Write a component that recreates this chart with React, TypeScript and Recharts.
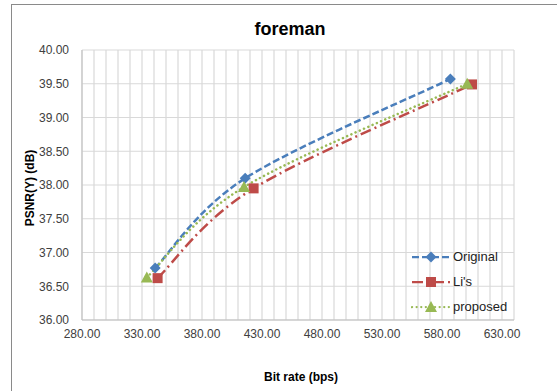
import { LineChart, Line, XAxis, YAxis, CartesianGrid, Legend } from 'recharts';

// bit rate (bps) vs PSNR(Y) (dB)
const originalRate = [341, 416, 587];
const originalPsnr = [36.77, 38.1, 39.57];
const lisRate = [343, 423, 605];
const lisPsnr = [36.62, 37.95, 39.49];
const proposedRate = [334, 415, 601];
const proposedPsnr = [36.63, 37.97, 39.5];

const xTicks = [280, 330, 380, 430, 480, 530, 580, 630];
const xGridTicks = [
  280, 290, 300, 310, 320, 330, 340, 350, 360, 370, 380, 390, 400, 410, 420, 430, 440, 450, 460,
  470, 480, 490, 500, 510, 520, 530, 540, 550, 560, 570, 580, 590, 600, 610, 620, 630, 640,
];
const yTicks = [36, 36.5, 37, 37.5, 38, 38.5, 39, 39.5, 40];
const X_DOMAIN = [280, 640];

const toPoints = (xs: number[], ys: number[]) => xs.map((x, i) => ({ x, y: ys[i] }));

const FONT = '"Liberation Sans", Arial, sans-serif';
const BLUE = '#4A7EBB';
const RED = '#BE4B48';
const GREEN = '#98B954';

const series = [
  { name: 'Original', data: toPoints(originalRate, originalPsnr), color: BLUE, dash: '7 3', marker: 'diamond' },
  { name: "Li's", data: toPoints(lisRate, lisPsnr), color: RED, dash: '11 4 2 4', marker: 'square' },
  { name: 'proposed', data: toPoints(proposedRate, proposedPsnr), color: GREEN, dash: '0.1 4.5', marker: 'triangle' },
];

// excel-style smoothed line (cardinal spline through the points)
function excelSmooth(context: any) {
  let pts: number[][] = [];
  return {
    areaStart() {},
    areaEnd() {},
    lineStart() {
      pts = [];
    },
    point(x: number, y: number) {
      pts.push([+x, +y]);
    },
    lineEnd() {
      if (!pts.length) return;
      context.moveTo(pts[0][0], pts[0][1]);
      for (let i = 0; i < pts.length - 1; i++) {
        const p0 = pts[Math.max(i - 1, 0)];
        const p1 = pts[i];
        const p2 = pts[i + 1];
        const p3 = pts[Math.min(i + 2, pts.length - 1)];
        context.bezierCurveTo(
          p1[0] + (p2[0] - p0[0]) / 6,
          p1[1] + (p2[1] - p0[1]) / 6,
          p2[0] - (p3[0] - p1[0]) / 6,
          p2[1] - (p3[1] - p1[1]) / 6,
          p2[0],
          p2[1],
        );
      }
    },
  };
}

// minor vertical gridlines every 10 bps
function minorVerticals({ xAxis, offset }: any) {
  const sc = xAxis && xAxis.scale;
  if (typeof sc === 'function') return xGridTicks.map((t) => sc(t));
  if (sc && typeof sc.map === 'function') return xGridTicks.map((t) => sc.map(t));
  const left = offset.left;
  const w = offset.width;
  return xGridTicks.map((t) => left + ((t - X_DOMAIN[0]) / (X_DOMAIN[1] - X_DOMAIN[0])) * w);
}

function Marker({ cx, cy, kind, color }: { cx: number; cy: number; kind: string; color: string }) {
  if (kind === 'diamond') {
    return <path d={`M${cx},${cy - 5.5}L${cx + 5.5},${cy}L${cx},${cy + 5.5}L${cx - 5.5},${cy}Z`} fill={color} />;
  }
  if (kind === 'square') {
    return <rect x={cx - 5} y={cy - 5} width={10} height={10} fill={color} />;
  }
  return <path d={`M${cx},${cy - 6}L${cx + 6},${cy + 5}L${cx - 6},${cy + 5}Z`} fill={color} />;
}

function renderLegend() {
  return (
    <div style={{ fontFamily: FONT, fontSize: 13, color: '#222' }}>
      {series.map((s) => (
        <div key={s.name} style={{ display: 'flex', alignItems: 'center', height: 25 }}>
          <svg width={40} height={14} style={{ marginRight: 2 }}>
            <line
              x1={1}
              y1={7}
              x2={39}
              y2={7}
              stroke={s.color}
              strokeWidth={2.25}
              strokeDasharray={s.dash}
              strokeLinecap={s.marker === 'triangle' ? 'round' : 'butt'}
            />
            <Marker cx={20} cy={7} kind={s.marker} color={s.color} />
          </svg>
          <span>{s.name}</span>
        </div>
      ))}
    </div>
  );
}

export default function App() {
  return (
    <div
      style={{
        position: 'absolute',
        left: 0,
        top: 0,
        width: 557,
        height: 391,
        overflow: 'hidden',
        background: '#fff',
      }}
    >
      <div
        style={{
          position: 'absolute',
          left: 11,
          top: 4,
          width: 700,
          height: 500,
          border: '1.5px solid #8a8a8a',
        }}
      />
      <div
        style={{
          position: 'absolute',
          left: 0,
          width: 580,
          top: 19,
          textAlign: 'center',
          fontFamily: FONT,
          fontWeight: 'bold',
          fontSize: 18,
          color: '#000',
        }}
      >
        foreman
      </div>
      <div
        style={{
          position: 'absolute',
          left: 30,
          top: 188,
          transform: 'translate(-50%, -50%) rotate(-90deg)',
          whiteSpace: 'nowrap',
          fontFamily: FONT,
          fontWeight: 'bold',
          fontSize: 12,
          color: '#000',
        }}
      >
        PSNR(Y) (dB)
      </div>
      <div
        style={{
          position: 'absolute',
          left: 301,
          top: 377,
          transform: 'translate(-50%, -50%)',
          whiteSpace: 'nowrap',
          fontFamily: FONT,
          fontWeight: 'bold',
          fontSize: 12,
          color: '#000',
        }}
      >
        Bit rate (bps)
      </div>
      <LineChart width={557} height={391} margin={{ top: 50, right: 43, left: 0, bottom: 41 }}>
        <CartesianGrid stroke="#d9d9d9" strokeWidth={1.2} verticalCoordinatesGenerator={minorVerticals} />
        <XAxis
          type="number"
          dataKey="x"
          domain={X_DOMAIN}
          ticks={xTicks}
          interval={0}
          height={30}
          tickFormatter={(v: number) => v.toFixed(2)}
          tick={{ fill: '#404040', fontSize: 12, fontFamily: FONT }}
          tickLine={false}
          tickSize={0}
          tickMargin={9}
          axisLine={{ stroke: '#bfbfbf' }}
        />
        <YAxis
          type="number"
          dataKey="y"
          domain={[36, 40]}
          ticks={yTicks}
          interval={0}
          width={82}
          tickFormatter={(v: number) => v.toFixed(2)}
          tick={{ fill: '#404040', fontSize: 12, fontFamily: FONT }}
          tickLine={false}
          tickSize={0}
          tickMargin={13}
          axisLine={{ stroke: '#bfbfbf' }}
        />
        {series.map((s) => (
          <Line
            key={s.name}
            name={s.name}
            data={s.data}
            dataKey="y"
            type={excelSmooth as any}
            stroke={s.color}
            strokeWidth={2.5}
            strokeDasharray={s.dash}
            strokeLinecap={s.marker === 'triangle' ? 'round' : 'butt'}
            isAnimationActive={false}
            dot={(p: any) => <Marker key={`${s.name}-${p.index}`} cx={p.cx} cy={p.cy} kind={s.marker} color={s.color} />}
            activeDot={false}
          />
        ))}
        <Legend
          layout="vertical"
          align="center"
          verticalAlign="middle"
          content={renderLegend}
          wrapperStyle={{ left: 411, top: 244, width: 110 }}
        />
      </LineChart>
    </div>
  );
}
